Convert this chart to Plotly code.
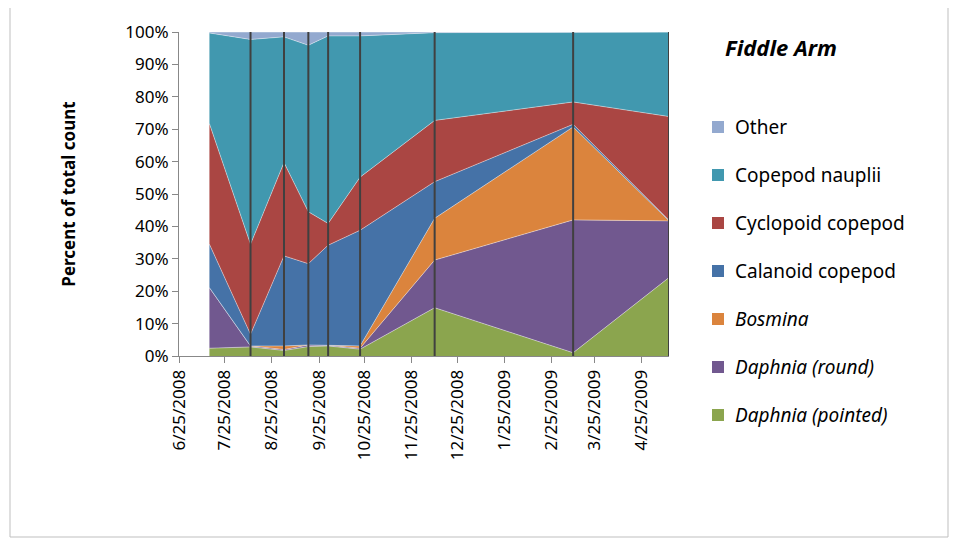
import plotly.graph_objects as go

dates = ["2008-07-15", "2008-08-11", "2008-09-02", "2008-09-18", "2008-10-01",
         "2008-10-22", "2008-12-10", "2009-03-11", "2009-05-13"]
daphnia_pointed = [2.4, 2.8, 1.7, 2.9, 3.1, 2.1, 14.9, 1.0, 24.2]
daphnia_round = [18.7, 0.3, 0.3, 0.5, 0.2, 0.3, 14.7, 41.0, 17.5]
bosmina = [0.0, 0.0, 1.1, 0.0, 0.0, 0.7, 12.9, 28.7, 0.0]
calanoid = [13.4, 3.6, 27.8, 25.1, 30.9, 35.7, 11.3, 0.8, 0.2]
cyclopoid = [37.2, 27.8, 28.8, 16.0, 6.7, 16.4, 18.9, 6.9, 32.0]
nauplii = [28.0, 63.2, 38.8, 51.4, 57.9, 43.6, 27.1, 21.6, 26.1]
other = [0.3, 2.3, 1.5, 4.1, 1.2, 1.2, 0.2, 0.0, 0.0]

tick_dates = ["2008-06-25", "2008-07-25", "2008-08-25", "2008-09-25", "2008-10-25",
              "2008-11-25", "2008-12-25", "2009-01-25", "2009-02-25", "2009-03-25", "2009-04-25"]
tick_labels = ["6/25/2008", "7/25/2008", "8/25/2008", "9/25/2008", "10/25/2008",
               "11/25/2008", "12/25/2008", "1/25/2009", "2/25/2009", "3/25/2009", "4/25/2009"]

series = [
    ("<i>Daphnia (pointed)</i>", daphnia_pointed, "#8BA54E"),
    ("<i>Daphnia (round)</i>", daphnia_round, "#71588F"),
    ("<i>Bosmina</i>", bosmina, "#DB843D"),
    ("Calanoid copepod", calanoid, "#4572A7"),
    ("Cyclopoid copepod", cyclopoid, "#AA4643"),
    ("Copepod nauplii", nauplii, "#4198AF"),
    ("Other", other, "#93A9CF"),
]

L, T, W, H = 171, 24, 490, 324

fig = go.Figure()
for name, vals, col in series:
    fig.add_trace(go.Scatter(x=dates, y=vals, name=name, stackgroup="one", mode="lines",
                             line=dict(width=0.6, color="rgba(255,255,255,0.7)"),
                             fillcolor=col, showlegend=False))

def px(x):
    return (x - L) / W

def py(y):
    return 1 - (y - T) / H

shapes = []
for d in dates[1:]:
    shapes.append(dict(type="line", xref="x", yref="paper", x0=d, x1=d, y0=0, y1=1,
                       line=dict(color="#404040", width=2)))
shapes.append(dict(type="rect", xref="paper", yref="paper", x0=px(2), x1=px(940), y0=py(529), y1=py(-3),
                   line=dict(color="#BFBFBF", width=1)))

annotations = [dict(text="<b><i>Fiddle Arm</i></b>", xref="paper", yref="paper", x=px(715), y=py(39),
                    xanchor="left", yanchor="middle", showarrow=False, font=dict(size=22, color="black"))]
legend_items = list(reversed(series))
for i, (name, vals, col) in enumerate(legend_items):
    ypx = 119 + i * 48
    yp = py(ypx)
    shapes.append(dict(type="rect", xref="paper", yref="paper",
                       x0=px(704), x1=px(716),
                       y0=yp - 6 / H, y1=yp + 6 / H, fillcolor=col, line=dict(width=0)))
    annotations.append(dict(text=name, xref="paper", yref="paper", x=px(725), y=yp,
                            xanchor="left", yanchor="middle", showarrow=False,
                            font=dict(size=19, color="black")))

fig.update_layout(
    width=958, height=539, margin=dict(l=L, r=958 - L - W, t=T, b=539 - T - H),
    plot_bgcolor="white", paper_bgcolor="white",
    font=dict(family="Noto Sans", color="black"),
    shapes=shapes, annotations=annotations,
    xaxis=dict(type="date", range=["2008-06-25", "2009-05-13"], tickvals=tick_dates,
               ticktext=tick_labels, tickangle=-90, ticks="outside", ticklen=6,
               tickcolor="#888", showline=True, linecolor="#888", showgrid=False,
               tickfont=dict(size=17)),
    yaxis=dict(range=[0, 100], tickvals=list(range(0, 101, 10)),
               ticktext=[f"{v}%" for v in range(0, 101, 10)], ticks="outside", ticklen=6,
               tickcolor="#888", showline=True, linecolor="#888", showgrid=False,
               tickfont=dict(size=17),
               title=dict(text="<b>Percent of total count</b>", font=dict(size=17), standoff=45)),
)
fig.write_html("out.html")
